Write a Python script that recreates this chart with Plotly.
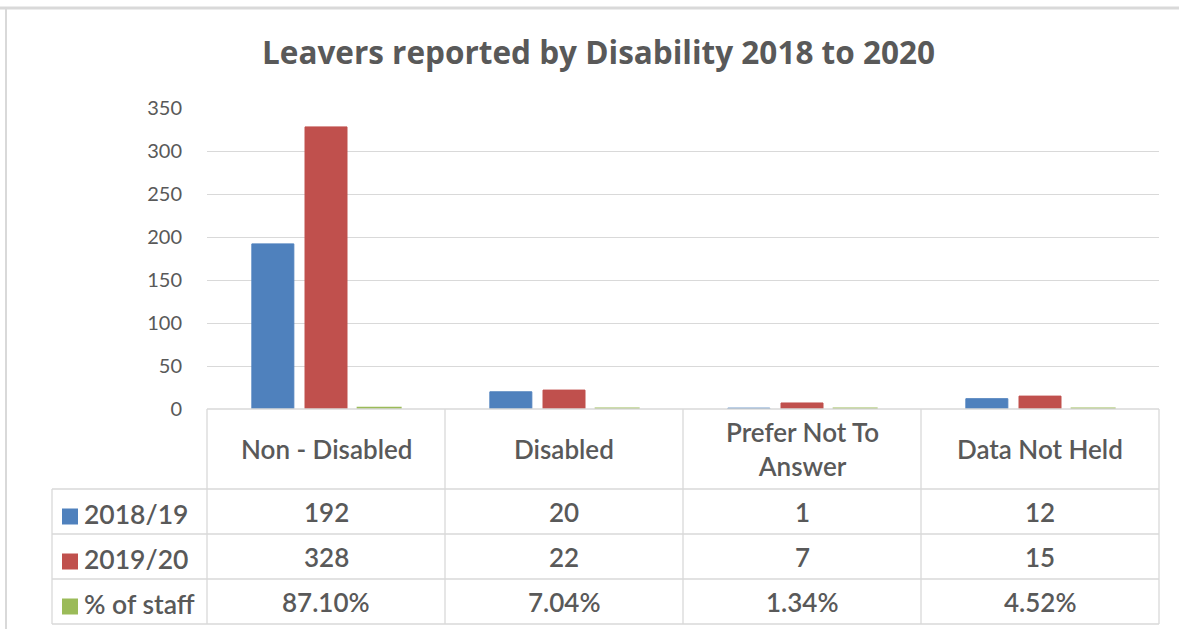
import plotly.graph_objects as go

categories = ["Non - Disabled", "Disabled", "Prefer Not To Answer", "Data Not Held"]
header_labels = ["Non - Disabled", "Disabled", "Prefer Not To<br>Answer", "Data Not Held"]
series_names = ["2018/19", "2019/20", "% of staff"]
leavers_2018_19 = [192, 20, 1, 12]
leavers_2019_20 = [328, 22, 7, 15]
pct_of_staff = [87.10, 7.04, 1.34, 4.52]
y_ticks = [0, 50, 100, 150, 200, 250, 300, 350]

colors = ["#4F81BD", "#C0504D", "#9BBB59"]
TXT = "#595959"
GRID = "#D9D9D9"
FONT = "Lato"

W, H = 1179, 629
L, R = 207, 1159
TOP, BOT = 108, 409
row_y = [409, 489, 534, 579, 624]   # table row boundaries (px)
tbl_left = 52


def py(p):  # pixel y -> paper y
    return (BOT - p) / (BOT - TOP)


def px(p):  # pixel x -> paper x
    return (p - L) / (R - L)


fig = go.Figure()
series_vals = [leavers_2018_19, leavers_2019_20, [v / 100 for v in pct_of_staff]]
for name, vals, col in zip(series_names, series_vals, colors):
    fig.add_trace(go.Bar(
        x=categories, y=vals, name=name,
        marker=dict(color=col, line=dict(color=col, width=3 if name == "% of staff" else 1)),
        showlegend=False,
    ))

shapes = []
line = dict(color=GRID, width=1.3)
shapes.append(dict(type="line", xref="paper", yref="paper", x0=0, x1=1, y0=py(row_y[0]), y1=py(row_y[0]), line=line))
for ry in row_y[1:]:
    shapes.append(dict(type="line", xref="paper", yref="paper", x0=px(tbl_left), x1=1, y0=py(ry), y1=py(ry), line=line))
shapes.append(dict(type="line", xref="paper", yref="paper", x0=px(tbl_left), x1=px(tbl_left),
                   y0=py(row_y[1]), y1=py(row_y[-1]), line=line))
for i in range(len(categories) + 1):
    xx = i / len(categories)
    shapes.append(dict(type="line", xref="paper", yref="paper", x0=xx, x1=xx,
                       y0=py(row_y[0]), y1=py(row_y[-1]), line=line))
# chart frame
shapes.append(dict(type="line", xref="paper", yref="paper", x0=px(0), x1=px(W), y0=py(8), y1=py(8),
                   line=dict(color="#D9D9D9", width=3)))
shapes.append(dict(type="line", xref="paper", yref="paper", x0=px(6), x1=px(6), y0=py(8), y1=py(H),
                   line=dict(color="#D9D9D9", width=2)))

annotations = []
tf = dict(family=FONT, size=26, color=TXT, weight=600)
for cat, lab in zip(categories, header_labels):
    annotations.append(dict(x=cat, xref="x", yref="paper", y=py((row_y[0] + row_y[1]) / 2),
                            text=lab, showarrow=False, font=tf, xanchor="center", yanchor="middle"))
table_rows = [
    [str(v) for v in leavers_2018_19],
    [str(v) for v in leavers_2019_20],
    [f"{v:.2f}%" for v in pct_of_staff],
]
for r, (name, vals, col) in enumerate(zip(series_names, table_rows, colors)):
    pc = (row_y[r + 1] + row_y[r + 2]) / 2
    yc = py(pc)
    for cat, v in zip(categories, vals):
        annotations.append(dict(x=cat, xref="x", yref="paper", y=yc, text=v, showarrow=False,
                                font=tf, xanchor="center", yanchor="middle"))
    annotations.append(dict(x=px(82), xref="paper", yref="paper", y=py(pc + 2), text=name, showarrow=False,
                            font=dict(family=FONT, size=26.5, color=TXT, weight=600), xanchor="left", yanchor="middle"))
    shapes.append(dict(type="rect", xref="paper", yref="paper", x0=px(62), x1=px(78),
                       y0=py(pc + 13), y1=py(pc - 3), fillcolor=col, line=dict(width=0)))

annotations.append(dict(x=px(598), xref="paper", yref="paper", y=py(52), text="Leavers reported by Disability 2018 to 2020",
                        showarrow=False, font=dict(family="Open Sans", size=31.5, color=TXT, weight="bold"),
                        xanchor="center", yanchor="middle"))

fig.update_layout(
    width=W, height=H,
    margin=dict(l=L, r=W - R, t=TOP, b=H - BOT, pad=0),
    paper_bgcolor="white", plot_bgcolor="white",
    barmode="group", bargap=0.33, bargroupgap=0.21,
    shapes=shapes, annotations=annotations,
    xaxis=dict(showticklabels=False, showgrid=False, zeroline=False, showline=False, ticks=""),
    yaxis=dict(range=[0, 350], tickvals=y_ticks, showgrid=True, gridcolor=GRID, gridwidth=1.3,
               zeroline=False, showline=False, ticks="outside", ticklen=20, tickcolor="rgba(0,0,0,0)",
               tickfont=dict(family=FONT, size=20, color=TXT)),
)

fig.write_html("out.html", config={"displayModeBar": False},
               post_script="document.body.style.margin='0';document.body.style.overflow='hidden';")
